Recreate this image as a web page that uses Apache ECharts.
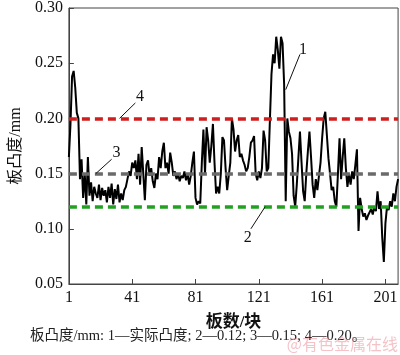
<!DOCTYPE html>
<html>
<head>
<meta charset="utf-8">
<script src="https://cdn.jsdelivr.net/npm/echarts@6/dist/echarts.min.js"></script>
<style>
  html, body { margin: 0; padding: 0; background: #fff; }
  #chart { width: 400px; height: 355px; }
</style>
</head>
<body>
<div id="chart"></div>
<script>
// measured crown, plates 1..209
const crown = [
  0.165, 0.195, 0.238, 0.243, 0.228, 0.205, 0.200, 0.145, 0.163, 0.128,
  0.150, 0.122, 0.165, 0.130, 0.142, 0.125, 0.138, 0.132, 0.128, 0.140,
  0.126, 0.137, 0.130, 0.135, 0.124, 0.138, 0.128, 0.141, 0.122, 0.136,
  0.127, 0.140, 0.124, 0.132, 0.126, 0.135, 0.138, 0.145, 0.152, 0.148,
  0.160, 0.155, 0.162, 0.145, 0.168, 0.140, 0.174, 0.150, 0.126, 0.158,
  0.162, 0.148, 0.155, 0.143, 0.137, 0.150, 0.145, 0.165, 0.155, 0.170,
  0.178, 0.155, 0.160, 0.150, 0.169, 0.160, 0.148, 0.152, 0.145, 0.150,
  0.143, 0.148, 0.146, 0.152, 0.144, 0.150, 0.140, 0.148, 0.160, 0.170,
  0.128, 0.122, 0.125, 0.123, 0.160, 0.190, 0.150, 0.192, 0.180, 0.160,
  0.175, 0.195, 0.160, 0.132, 0.138, 0.132, 0.150, 0.183, 0.180, 0.155,
  0.135, 0.148, 0.160, 0.200, 0.190, 0.170, 0.180, 0.185, 0.165, 0.168,
  0.162, 0.158, 0.152, 0.155, 0.165, 0.178, 0.180, 0.184, 0.150, 0.144,
  0.152, 0.146, 0.155, 0.189, 0.180, 0.152, 0.155, 0.198, 0.240, 0.258,
  0.250, 0.274, 0.262, 0.245, 0.274, 0.268, 0.231, 0.125, 0.200, 0.188,
  0.182, 0.168, 0.130, 0.120, 0.140, 0.164, 0.188, 0.160, 0.134, 0.125,
  0.150, 0.170, 0.188, 0.165, 0.140, 0.128, 0.145, 0.135, 0.148, 0.160,
  0.182, 0.200, 0.206, 0.185, 0.164, 0.150, 0.135, 0.138, 0.125, 0.120,
  0.150, 0.182, 0.145, 0.165, 0.182, 0.155, 0.138, 0.150, 0.140, 0.152,
  0.145, 0.158, 0.172, 0.098, 0.128, 0.118, 0.111, 0.114, 0.108, 0.112,
  0.115, 0.118, 0.113, 0.120, 0.116, 0.134, 0.118, 0.125, 0.092, 0.070,
  0.105, 0.120, 0.117, 0.125, 0.120, 0.132, 0.125, 0.138, 0.145
];
const plates = crown.map((v, i) => String(i + 1));
const refValues = [0.12, 0.15, 0.20];
const refColors = ['#22a022', '#6a6a6a', '#d01e1e'];
const yTicks = [0.05, 0.10, 0.15, 0.20, 0.25, 0.30];

const serif = '"Liberation Serif", "Times New Roman", "Noto Sans CJK SC", serif';

const chart = echarts.init(document.getElementById('chart'));
chart.setOption({
  animation: false,
  grid: { left: 58, right: 1, top: 6, bottom: 71, show: true, borderColor: '#444', borderWidth: 1 },
  xAxis: {
    type: 'category',
    data: plates,
    boundaryGap: false,
    name: '板数/块',
    nameLocation: 'middle',
    nameGap: 30,
    nameTextStyle: { fontFamily: serif, fontSize: 17, color: '#111', fontWeight: 'bold' },
    axisLine: { lineStyle: { color: '#444' } },
    axisTick: { inside: true, interval: 39, length: 5, lineStyle: { color: '#444' } },
    axisLabel: { interval: 39, fontFamily: serif, fontSize: 16, color: '#111', margin: 6 },
    splitLine: { show: false }
  },
  yAxis: {
    type: 'value',
    min: yTicks[0],
    max: yTicks[yTicks.length - 1],
    interval: 0.05,
    name: '板凸度/mm',
    nameLocation: 'middle',
    nameGap: 42,
    nameTextStyle: { fontFamily: serif, fontSize: 16, color: '#111' },
    axisLine: { show: true, lineStyle: { color: '#444' } },
    axisTick: { show: true, inside: true, length: 5, lineStyle: { color: '#444' } },
    axisLabel: { fontFamily: serif, fontSize: 16, color: '#111', margin: 6, formatter: v => v.toFixed(2) },
    splitLine: { show: false }
  },
  series: [{
    type: 'line',
    data: crown,
    symbol: 'none',
    z: 3,
    lineStyle: { color: '#000', width: 2 },
    markLine: {
      silent: true,
      symbol: 'none',
      label: { show: false },
      data: refValues.map((v, i) => ({
        yAxis: v,
        lineStyle: { color: refColors[i], width: 3.5, type: [8, 5], opacity: 1 }
      }))
    }
  }]
});

// leader lines with numbers, placed in data coordinates
const notes = [
  { text: '1', from: ['138', 0.226], to: ['147', 0.258], label: ['149', 0.262] },
  { text: '4', from: ['33', 0.200], to: ['43', 0.214], label: ['46', 0.220] },
  { text: '3', from: ['18', 0.150], to: ['28', 0.163], label: ['31', 0.169] },
  { text: '2', from: ['125', 0.120], to: ['116', 0.100], label: ['114', 0.092] }
];
const g = [];
notes.forEach(n => {
  const a = chart.convertToPixel({ gridIndex: 0 }, n.from);
  const b = chart.convertToPixel({ gridIndex: 0 }, n.to);
  const c = chart.convertToPixel({ gridIndex: 0 }, n.label);
  g.push({ type: 'line', shape: { x1: a[0], y1: a[1], x2: b[0], y2: b[1] }, style: { stroke: '#111', lineWidth: 1 }, z: 10 });
  g.push({ type: 'text', x: c[0], y: c[1], style: { text: n.text, font: '16px ' + serif, fill: '#111', align: 'center', verticalAlign: 'middle' }, z: 10 });
});
g.push({
  type: 'text', left: 30, top: 329,
  style: { text: '板凸度/mm: 1—实际凸度; 2—0.12; 3—0.15; 4—0.20。', font: '14.5px ' + serif, fill: '#222' }
});
g.push({
  type: 'text', right: 2, top: 336,
  style: { text: '@有色金属在线', font: '16px "Noto Sans CJK SC", sans-serif', fill: 'rgba(230,120,130,0.45)' }
});
chart.setOption({ graphic: g });
</script>
</body>
</html>
